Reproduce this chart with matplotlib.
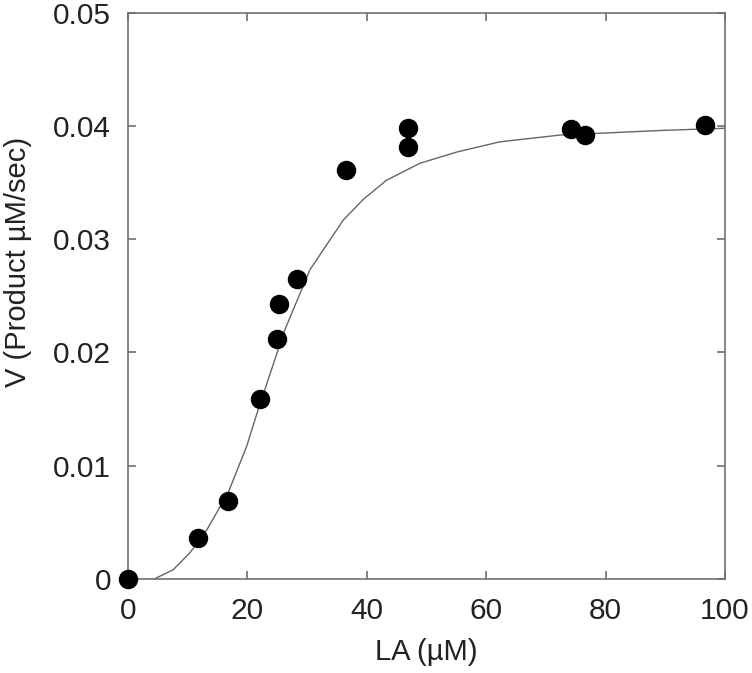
import matplotlib
matplotlib.use("Agg")
import matplotlib.pyplot as plt

plt.rcParams["font.family"] = ["Liberation Sans", "DejaVu Sans"]
plt.rcParams["font.size"] = 21

# measured points
la = [0, 11.7, 16.8, 22.1, 25.0, 25.3, 28.3, 36.5, 46.9, 46.9, 74.3, 76.6, 96.6]
v = [0, 0.0036, 0.0069, 0.0159, 0.0212, 0.0243, 0.0265, 0.0361, 0.0381, 0.0398, 0.0397, 0.0392, 0.0401]

# fitted curve
fit_x = [4.5, 7.6, 10.4, 13.2, 16.8, 19.9, 21.8, 23.5, 26.3, 30.5, 33.8, 36.1, 39.4, 43.3, 48.9, 55.1, 62.3, 72.4, 89.1, 100]
fit_y = [0, 0.0008, 0.0023, 0.0043, 0.0076, 0.0117, 0.0149, 0.0176, 0.0220, 0.0273, 0.0299, 0.0317, 0.0335, 0.0352, 0.0367, 0.0377, 0.0386, 0.0392, 0.0396, 0.0398]

xticks = [0, 20, 40, 60, 80, 100]
yticks = [0, 0.01, 0.02, 0.03, 0.04, 0.05]
ytick_labels = ["0", "0.01", "0.02", "0.03", "0.04", "0.05"]

fig = plt.figure(figsize=(7.52, 6.73), dpi=100)
ax = fig.add_axes([0.170, 0.140, 0.794, 0.841])

ax.plot(fit_x, fit_y, color="#666666", linewidth=1.0, zorder=2)
ax.plot(la, v, "o", color="black", markersize=13, clip_on=False, zorder=3)

ax.set_xlim(0, 100)
ax.set_ylim(0, 0.05)
ax.set_xticks(xticks)
ax.set_yticks(yticks)
ax.set_yticklabels(ytick_labels)

for s in ax.spines.values():
    s.set_color("#707070")
    s.set_linewidth(1.2)

ax.tick_params(direction="in", length=6, width=1.2, color="#707070",
               top=True, right=True, labelsize=21.5, labelcolor="#222222")
ax.tick_params(axis="x", pad=13)
ax.tick_params(axis="y", pad=12)

ax.set_xlabel("LA (\u00b5M)", fontsize=21, color="#222222")
ax.set_ylabel("V (Product \u00b5M/sec)", fontsize=21, color="#222222")
ax.xaxis.set_label_coords(0.5, -0.104)
ax.yaxis.set_label_coords(-0.161, 0.56)

fig.savefig("out.png", dpi=100)
